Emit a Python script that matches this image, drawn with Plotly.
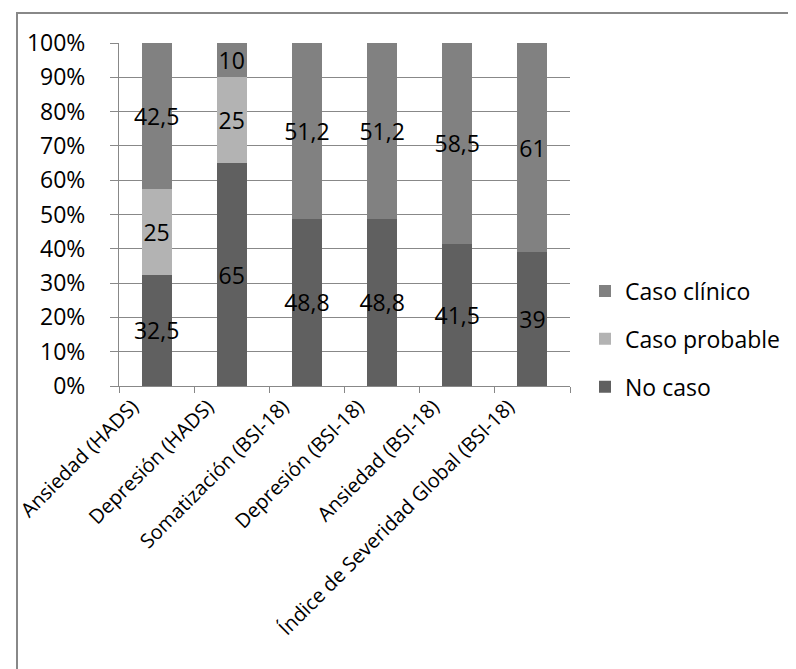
import plotly.graph_objects as go

categories = ["Ansiedad (HADS)", "Depresión (HADS)", "Somatización (BSI-18)",
              "Depresión (BSI-18)", "Ansiedad (BSI-18)", "Índice de Severidad Global (BSI-18)"]
no_caso = [32.5, 65, 48.8, 48.8, 41.5, 39]
caso_probable = [25, 25, 0, 0, 0, 0]
caso_clinico = [42.5, 10, 51.2, 51.2, 58.5, 61]
y_ticks = [0, 10, 20, 30, 40, 50, 60, 70, 80, 90, 100]
y_ticktext = ["%d%%" % v for v in y_ticks]

series = [
    ("No caso", no_caso, "#606060", 3),
    ("Caso probable", caso_probable, "#b3b3b3", 2),
    ("Caso clínico", caso_clinico, "#818181", 1),
]

FONT = "Open Sans"
FS = 23

def fmt(v):
    if v == 0:
        return ""
    return ("%g" % v).replace(".", ",")

fig = go.Figure()
for i, (name, vals, col, rank) in enumerate(series):
    fig.add_trace(go.Bar(
        x=categories, y=vals, name=name, marker=dict(color=col, line=dict(width=0)),
        text=[fmt(v) for v in vals], textposition="inside", insidetextanchor="middle",
        textangle=0, constraintext="none",
        textfont=dict(family=FONT, size=FS, color="#000000"),
        legendgroup="g%d" % i, legendrank=rank,
    ))

W, H = 796, 669
L, R, T, B = 111, 562, 35, 378

fig.update_layout(
    width=W, height=H,
    barmode="stack", bargap=0.6,
    margin=dict(l=L, r=W - R, t=T, b=H - B, autoexpand=False),
    paper_bgcolor="white", plot_bgcolor="white",
    font=dict(family=FONT, size=FS, color="#000000"),
    showlegend=True,
    legend=dict(x=(577 - L) / (R - L), xanchor="left", y=(B - 331) / (B - T), yanchor="middle",
                traceorder="grouped", tracegroupgap=15,
                font=dict(family=FONT, size=FS, color="#000000"),
                itemwidth=30),
)
fig.update_xaxes(
    type="category", tickangle=-45, tickson="boundaries", ticks="outside", ticklen=6,
    tickcolor="#888888", showline=True, linecolor="#888888", linewidth=1,
    showgrid=False, ticklabelstandoff=0, ticklabelshift=-24,
    tickfont=dict(family=FONT, size=20, color="#000000"),
)
fig.update_yaxes(
    range=[0, 100], tickmode="array", tickvals=y_ticks, ticktext=y_ticktext,
    ticks="outside", ticklen=8,
    tickcolor="#888888", showline=True, linecolor="#888888", linewidth=1,
    showgrid=True, gridcolor="#888888", gridwidth=1, zeroline=False,
    ticklabelstandoff=20,
    tickfont=dict(family=FONT, size=FS, color="#000000"),
)

# outer chart border (top and left visible; extends beyond the window)
fig.add_shape(type="rect", xref="paper", yref="paper",
              x0=(9 - L) / (R - L), x1=(W + 20 - L) / (R - L),
              y0=(B - (H + 20)) / (B - T), y1=(B - 5) / (B - T),
              line=dict(color="#888888", width=2), fillcolor="rgba(0,0,0,0)", layer="below")

fig.write_html("out.html")
